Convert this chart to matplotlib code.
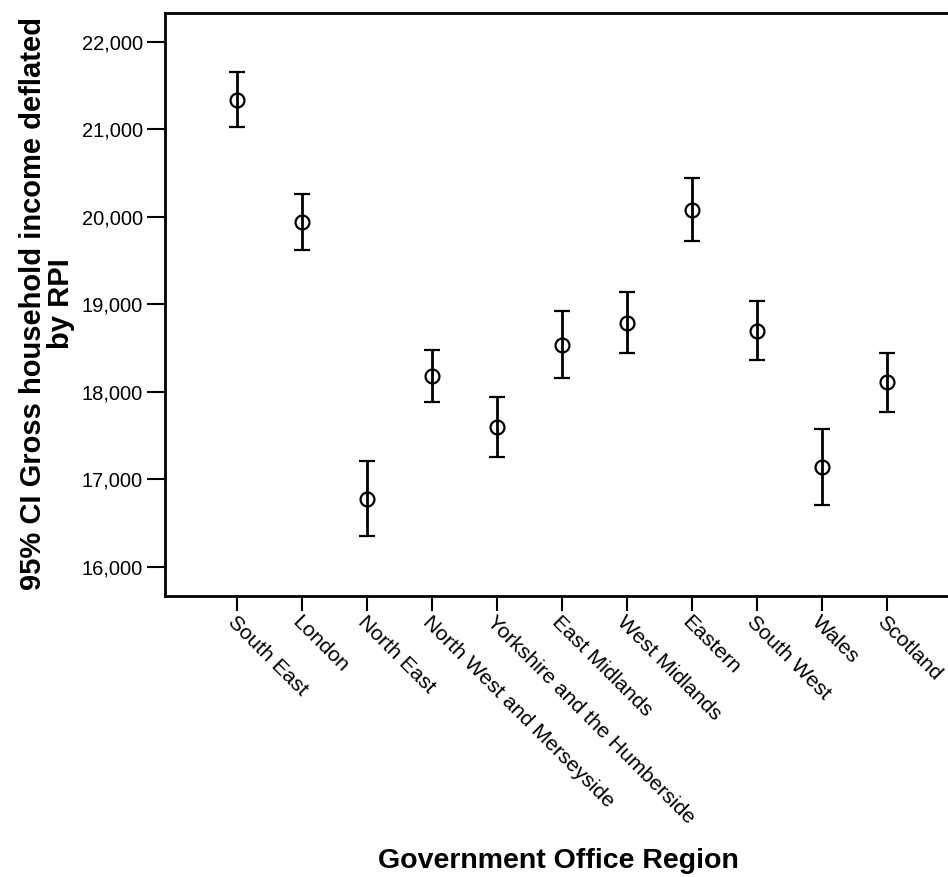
import matplotlib
matplotlib.use('Agg')
import matplotlib.pyplot as plt
import numpy as np

# Mean and 95% CI bounds
regions = ['South East', 'London', 'North East', 'North West and Merseyside',
           'Yorkshire and the Humberside', 'East Midlands', 'West Midlands',
           'Eastern', 'South West', 'Wales', 'Scotland']
means = [21341, 19941, 16776, 18187, 17595, 18541, 18793, 20074, 18701, 17137, 18110]
lower = [21032, 19617, 16353, 17886, 17256, 18156, 18446, 19720, 18362, 16707, 17771]
upper = [21653, 20257, 17210, 18481, 17938, 18919, 19140, 20448, 19041, 17572, 18450]
yticks = [16000, 17000, 18000, 19000, 20000, 21000, 22000]

plt.rcParams['font.family'] = ['Liberation Sans', 'DejaVu Sans']

fig = plt.figure(figsize=(9.48, 8.77), dpi=100)
ax = fig.add_axes([165 / 948, 1 - 596 / 877, 794 / 948, 583 / 877])

x = np.arange(len(regions))
means = np.array(means)
err = [means - np.array(lower), np.array(upper) - means]
ax.errorbar(x, means, yerr=err, fmt='o', color='black', mfc='none', mec='black',
            ms=10, mew=1.6, elinewidth=2, capsize=6, capthick=2)

ax.set_xlim(-1.113, 11.113)
ax.set_ylim(15666, 22332)
ax.set_yticks(yticks)
ax.set_yticklabels([f'{v:,}' for v in yticks], fontsize=14.5)
ax.set_xticks(x)
ax.set_xticklabels(regions, fontsize=15.3, rotation=-45, ha='left', va='top',
                   rotation_mode='anchor')
ax.tick_params(axis='y', direction='out', length=13, width=1.5, pad=3)
ax.tick_params(axis='x', direction='out', length=11, width=1.5, pad=1)

for s in ax.spines.values():
    s.set_linewidth(2)

ax.set_xlabel('Government Office Region', fontsize=20.5, fontweight='bold', va='center')
ax.xaxis.set_label_coords(0.495, -0.4545)
ax.set_ylabel('95% CI Gross household income deflated\nby RPI', fontsize=21,
              fontweight='bold', linespacing=1.0, va='center')
ax.yaxis.set_label_coords(-0.148, 0.501)

fig.savefig('out.png', dpi=100)
